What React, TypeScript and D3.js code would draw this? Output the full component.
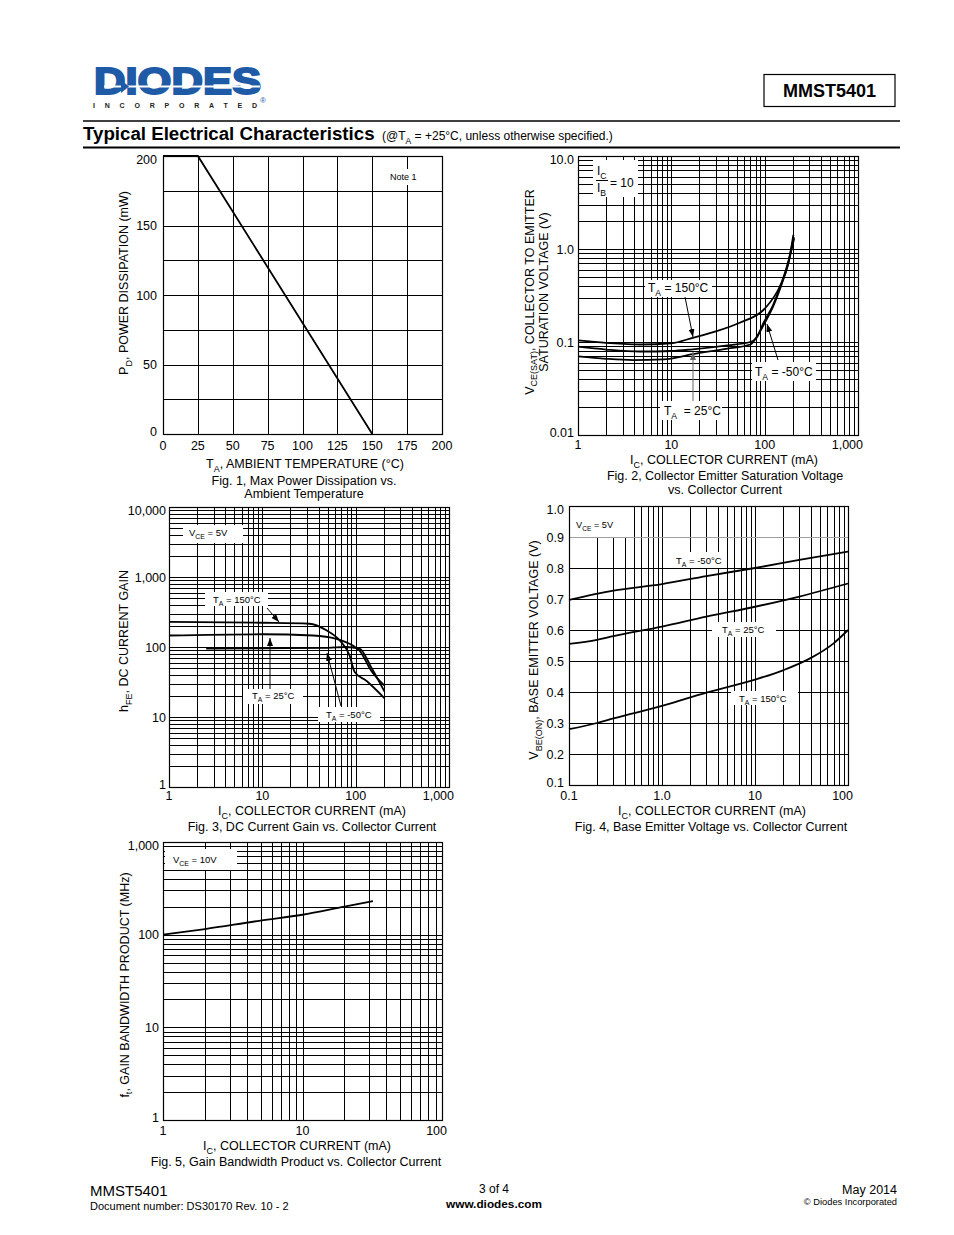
import React, { useEffect, useRef } from 'react';
import * as d3 from 'd3';

// Fig. 1 – max power dissipation vs. ambient temperature
const fig1Temp = [0, 25, 150];
const fig1Power = [200, 200, 0];
const fig1Grid = [0, 25, 50, 75, 100, 125, 150, 175, 200];
const fig1XLabels = ['0', '25', '50', '75', '100', '125', '150', '175', '200'];
const fig1YTicks = [0, 50, 100, 150, 200];

// Fig. 2 – VCE(SAT) vs. IC (IC/IB = 10)
const fig2Ic150 = [1, 2, 4.6, 10, 17, 30, 54, 100, 146, 180, 203];
const fig2V150 = [0.104, 0.098, 0.094, 0.097, 0.111, 0.13, 0.161, 0.228, 0.4, 0.71, 1.42];
const fig2Ic25 = [1, 2, 4.6, 10, 17, 40, 70, 82, 97, 123, 150, 180, 205];
const fig2V25 = [0.089, 0.083, 0.079, 0.08, 0.0835, 0.092, 0.1, 0.111, 0.16, 0.25, 0.42, 0.75, 1.35];
const fig2IcM50 = [1, 2, 3.9, 8.2, 17, 40, 70, 85, 100, 123, 150, 180, 207];
const fig2VM50 = [0.07, 0.066, 0.064, 0.065, 0.074, 0.085, 0.094, 0.12, 0.16, 0.24, 0.4, 0.72, 1.3];
const fig2XTicks = [1, 10, 100, 1000];
const fig2XLabels = ['1', '10', '100', '1,000'];
const fig2YTicks = [0.01, 0.1, 1, 10];
const fig2YLabels = ['0.01', '0.1', '1.0', '10.0'];

// Fig. 3 – hFE vs. IC (VCE = 5V)
const fig3Ic150 = [1, 10, 32, 48.6, 67.6, 86, 97.6, 130, 204];
const fig3H150 = [228, 222, 215, 173, 124, 76, 44, 33, 18.5];
const fig3Ic25 = [1, 10, 35, 62, 93, 110, 148, 204];
const fig3H25 = [146, 152, 146, 131, 105, 89, 45, 28];
const fig3IcM50 = [2.5, 10, 50, 79, 110, 148, 204];
const fig3HM50 = [95, 96, 97, 100, 95, 50, 23];
const fig3XTicks = [1, 10, 100, 1000];
const fig3XLabels = ['1', '10', '100', '1,000'];
const fig3YTicks = [1, 10, 100, 1000, 10000];
const fig3YLabels = ['1', '10', '100', '1,000', '10,000'];

// Fig. 4 – VBE(ON) vs. IC (VCE = 5V)
const fig4IcM50 = [0.1, 0.3, 1, 3, 10, 30, 100];
const fig4VM50 = [0.697, 0.727, 0.748, 0.774, 0.8, 0.826, 0.853];
const fig4Ic25 = [0.1, 0.2, 0.3, 1, 3, 10, 30, 100];
const fig4V25 = [0.555, 0.568, 0.58, 0.611, 0.643, 0.675, 0.708, 0.75];
const fig4Ic150 = [0.1, 0.2, 0.3, 1, 3, 10, 20, 40, 70, 100];
const fig4V150 = [0.28, 0.3, 0.315, 0.355, 0.398, 0.44, 0.47, 0.51, 0.557, 0.6];
const fig4XTicks = [0.1, 1, 10, 100];
const fig4XLabels = ['0.1', '1.0', '10', '100'];
const fig4YTicks = [0.1, 0.2, 0.3, 0.4, 0.5, 0.6, 0.7, 0.8, 0.9, 1.0];
const fig4YLabels = ['0.1', '0.2', '0.3', '0.4', '0.5', '0.6', '0.7', '0.8', '0.9', '1.0'];

// Fig. 5 – fT vs. IC (VCE = 10V)
const fig5Ic = [1, 2, 5, 10, 20, 32];
const fig5Ft = [100, 115, 142, 164, 201, 230];
const fig5XTicks = [1, 10, 100];
const fig5XLabels = ['1', '10', '100'];
const fig5YTicks = [1, 10, 100, 1000];
const fig5YLabels = ['1', '10', '100', '1,000'];

const FONT = "'Liberation Sans', Arial, Helvetica, sans-serif";
const BLUE = '#1e5aa6';

type Part = string | { sub: string };
type Sel = d3.Selection<any, unknown, null, undefined>;

const richText = (
  parent: Sel,
  x: number,
  y: number,
  parts: Part[],
  size: number,
  opts: { anchor?: string; rotate?: number; weight?: string; fill?: string } = {},
) => {
  const t = parent
    .append('text')
    .attr('font-family', FONT)
    .attr('font-size', size)
    .attr('font-weight', opts.weight || 'normal')
    .attr('fill', opts.fill || '#000')
    .attr('text-anchor', opts.anchor || 'start')
    .style('white-space', 'pre')
    .attr('transform', `translate(${x},${y})${opts.rotate ? ` rotate(${opts.rotate})` : ''}`);
  const shift = size * 0.3;
  let shifted = false;
  parts.forEach((p) => {
    if (typeof p === 'string') {
      const s = t.append('tspan').text(p);
      if (shifted) s.attr('dy', -shift);
      shifted = false;
    } else {
      t.append('tspan').attr('font-size', size * 0.72).attr('dy', shift).text(p.sub);
      shifted = true;
    }
  });
  return t;
};

const whiteBox = (g: Sel, x: number, y: number, w: number, h: number) =>
  g.append('rect').attr('x', x).attr('y', y).attr('width', w).attr('height', h).attr('fill', '#fff');

const arrow = (g: Sel, x1: number, y1: number, x2: number, y2: number, color = '#000') =>
  g
    .append('line')
    .attr('x1', x1)
    .attr('y1', y1)
    .attr('x2', x2)
    .attr('y2', y2)
    .attr('stroke', color)
    .attr('stroke-width', 1)
    .attr('marker-end', color === '#000' ? 'url(#arrowK)' : 'url(#arrowG)');

interface ChartOpts {
  xs: any;
  ys: any;
  xGrid: number[];
  yGrid: number[];
  greyY?: number[];
  boxes: [number, number, number, number][];
}

const drawGrid = (g: Sel, o: ChartOpts) => {
  const [x0, x1] = o.xs.range();
  const [yb, yt] = o.ys.range();
  g.append('g')
    .selectAll('line')
    .data(o.xGrid)
    .join('line')
    .attr('x1', (d) => Math.round(o.xs(d)) + 0.5)
    .attr('x2', (d) => Math.round(o.xs(d)) + 0.5)
    .attr('y1', yt)
    .attr('y2', yb)
    .attr('stroke', '#000')
    .attr('stroke-width', 1);
  g.append('g')
    .selectAll('line')
    .data(o.yGrid)
    .join('line')
    .attr('x1', x0)
    .attr('x2', x1)
    .attr('y1', (d) => Math.round(o.ys(d)) + 0.5)
    .attr('y2', (d) => Math.round(o.ys(d)) + 0.5)
    .attr('stroke', (d) => (o.greyY && o.greyY.includes(d) ? '#a0a0a0' : '#000'))
    .attr('stroke-width', 1);
  o.boxes.forEach(([x, y, w, h]) => whiteBox(g, x, y, w, h));
  g.append('rect')
    .attr('x', x0 + 0.5)
    .attr('y', yt + 0.5)
    .attr('width', x1 - x0)
    .attr('height', yb - yt)
    .attr('fill', 'none')
    .attr('stroke', '#000')
    .attr('stroke-width', 1.2);
};

const drawCurve = (g: Sel, xs: any, ys: any, xv: number[], yv: number[], curve: any = d3.curveMonotoneX) => {
  const pts: [number, number][] = xv.map((x, i) => [xs(x), ys(yv[i])]);
  g.append('path')
    .attr('d', d3.line().curve(curve)(pts))
    .attr('fill', 'none')
    .attr('stroke', '#000')
    .attr('stroke-width', 1.8);
};

const xTickLabels = (g: Sel, xs: any, y: number, vals: number[], labels: string[], lastEnd: boolean) => {
  vals.forEach((v, i) => {
    const last = lastEnd && i === vals.length - 1;
    g.append('text')
      .attr('x', xs(v) + (last ? 5 : 0))
      .attr('y', y)
      .attr('text-anchor', last ? 'end' : 'middle')
      .attr('font-family', FONT)
      .attr('font-size', 12.5)
      .text(labels[i]);
  });
};

const yTickLabels = (g: Sel, ys: any, x: number, vals: number[], labels: string[]) => {
  vals.forEach((v, i) => {
    const off = i === 0 ? -3 : i === vals.length - 1 ? 3 : 0;
    g.append('text')
      .attr('x', x)
      .attr('y', ys(v) + off)
      .attr('dy', '0.36em')
      .attr('text-anchor', 'end')
      .attr('font-family', FONT)
      .attr('font-size', 12.5)
      .text(labels[i]);
  });
};

const plainText = (g: Sel, x: number, y: number, s: string, size: number, anchor = 'middle', weight = 'normal') =>
  g
    .append('text')
    .attr('x', x)
    .attr('y', y)
    .attr('text-anchor', anchor)
    .attr('font-family', FONT)
    .attr('font-size', size)
    .attr('font-weight', weight)
    .text(s);

const drawHeader = (svg: Sel) => {
  const g = svg.append('g');
  // logo
  g.append('text')
    .attr('x', 94)
    .attr('y', 94)
    .attr('font-family', FONT)
    .attr('font-weight', 'bold')
    .attr('font-size', 37)
    .attr('textLength', 167)
    .attr('lengthAdjust', 'spacingAndGlyphs')
    .attr('fill', BLUE)
    .attr('stroke', BLUE)
    .attr('stroke-width', 2)
    .attr('stroke-linejoin', 'miter')
    .text('DIODES');
  g.append('rect').attr('x', 104).attr('y', 85.5).attr('width', 156).attr('height', 2).attr('fill', '#fff');
  g.append('path').attr('d', 'M121,80 L129,86.5 L121,93 Z').attr('fill', BLUE);
  g.append('text')
    .attr('x', 93)
    .attr('y', 108)
    .attr('font-family', FONT)
    .attr('font-weight', 'bold')
    .attr('font-size', 7)
    .attr('textLength', 164)
    .attr('lengthAdjust', 'spacing')
    .attr('fill', '#222')
    .text('INCORPORATED');
  g.append('text')
    .attr('x', 260)
    .attr('y', 103)
    .attr('font-family', FONT)
    .attr('font-size', 8)
    .attr('fill', BLUE)
    .text('®');

  g.append('rect').attr('x', 764).attr('y', 74.5).attr('width', 131).attr('height', 32).attr('fill', 'none').attr('stroke', '#000').attr('stroke-width', 1.2);
  plainText(g, 829.5, 97, 'MMST5401', 18, 'middle', 'bold');

  g.append('line').attr('x1', 83).attr('x2', 900).attr('y1', 121).attr('y2', 121).attr('stroke', '#000').attr('stroke-width', 1.3);
  g.append('line').attr('x1', 83).attr('x2', 900).attr('y1', 147.5).attr('y2', 147.5).attr('stroke', '#000').attr('stroke-width', 2.2);
  plainText(g, 83, 140, 'Typical Electrical Characteristics', 18.7, 'start', 'bold');
  richText(g, 382, 140, ['(@T', { sub: 'A' }, ' = +25°C, unless otherwise specified.)'], 12);

  // footer
  plainText(g, 90, 1196, 'MMST5401', 15, 'start');
  plainText(g, 90, 1210, 'Document number: DS30170 Rev. 10 - 2', 11, 'start');
  plainText(g, 494, 1193, '3 of 4', 12, 'middle');
  plainText(g, 494, 1208, 'www.diodes.com', 11.8, 'middle', 'bold');
  plainText(g, 897, 1194, 'May 2014', 12.5, 'end');
  plainText(g, 897, 1205, '© Diodes Incorporated', 9.3, 'end');
};

const drawFig1 = (svg: Sel) => {
  const g = svg.append('g');
  const xs = d3.scaleLinear().domain([0, 200]).range([163, 442]);
  const ys = d3.scaleLinear().domain([0, 200]).range([434, 156]);
  drawGrid(g, { xs, ys, xGrid: fig1Grid, yGrid: fig1Grid, boxes: [[387, 169, 38, 16]] });
  drawCurve(g, xs, ys, fig1Temp, fig1Power, d3.curveLinear);
  plainText(g, 390, 180, 'Note 1', 9, 'start');
  xTickLabels(g, xs, 450, fig1Grid, fig1XLabels, false);
  yTickLabels(g, ys, 157, fig1YTicks, fig1YTicks.map(String));
  richText(g, 305, 468, ['T', { sub: 'A' }, ', AMBIENT TEMPERATURE (°C)'], 12.5, { anchor: 'middle' });
  plainText(g, 304, 485, 'Fig. 1, Max Power Dissipation vs.', 12.5);
  plainText(g, 304, 498, 'Ambient Temperature', 12.5);
  richText(g, 128, 283, ['P', { sub: 'D' }, ', POWER DISSIPATION (mW)'], 12.5, { anchor: 'middle', rotate: -90 });
};

const drawFig2 = (svg: Sel) => {
  const g = svg.append('g');
  const xs = d3.scaleLog().domain([1, 1000]).range([578, 858]);
  const ys = d3.scaleLog().domain([0.01, 10]).range([435, 156]);
  drawGrid(g, {
    xs,
    ys,
    xGrid: xs.ticks(),
    yGrid: ys.ticks(),
    boxes: [
      [593, 160, 45, 37],
      [645, 280, 67, 17],
      [752, 362, 64, 19],
      [660, 401, 62, 19],
    ],
  });
  drawCurve(g, xs, ys, fig2Ic150, fig2V150);
  drawCurve(g, xs, ys, fig2Ic25, fig2V25);
  drawCurve(g, xs, ys, fig2IcM50, fig2VM50);
  // IC / IB = 10
  richText(g, 597, 175, ['I', { sub: 'C' }], 12);
  g.append('line').attr('x1', 596).attr('x2', 608).attr('y1', 180.5).attr('y2', 180.5).attr('stroke', '#000');
  richText(g, 597, 192, ['I', { sub: 'B' }], 12);
  plainText(g, 610, 187, '= 10', 12, 'start');
  richText(g, 648, 292, ['T', { sub: 'A' }, ' = 150°C'], 12);
  richText(g, 755, 376, ['T', { sub: 'A' }, ' = -50°C'], 12);
  richText(g, 664, 415, ['T', { sub: 'A' }, '  = 25°C'], 12);
  arrow(g, 685, 297, 693, 337);
  arrow(g, 693, 401, 693, 352, '#666');
  arrow(g, 778, 360, 767, 324);
  xTickLabels(g, xs, 449, fig2XTicks, fig2XLabels, true);
  yTickLabels(g, ys, 574, fig2YTicks, fig2YLabels);
  richText(g, 724, 464, ['I', { sub: 'C' }, ', COLLECTOR CURRENT (mA)'], 12.5, { anchor: 'middle' });
  plainText(g, 725, 480, 'Fig. 2, Collector Emitter Saturation Voltage', 12.5);
  plainText(g, 725, 494, 'vs. Collector Current', 12.5);
  richText(g, 533.5, 292, ['V', { sub: 'CE(SAT)' }, ', COLLECTOR TO EMITTER'], 12.5, { anchor: 'middle', rotate: -90 });
  richText(g, 548, 292, ['SATURATION VOLTAGE (V)'], 12.5, { anchor: 'middle', rotate: -90 });
};

const drawFig3 = (svg: Sel) => {
  const g = svg.append('g');
  const xs = d3.scaleLog().domain([1, 1000]).range([169, 449]);
  const ys = d3.scaleLog().domain([1, 10000]).range([787, 507]);
  drawGrid(g, {
    xs,
    ys,
    xGrid: xs.ticks(),
    yGrid: ys.ticks(),
    boxes: [
      [183, 525, 60, 18],
      [205, 592, 63, 14],
      [243, 689, 60, 15],
      [318, 707, 62, 15],
    ],
  });
  drawCurve(g, xs, ys, fig3Ic150, fig3H150);
  drawCurve(g, xs, ys, fig3Ic25, fig3H25);
  drawCurve(g, xs, ys, fig3IcM50, fig3HM50);
  richText(g, 189, 536, ['V', { sub: 'CE' }, ' = 5V'], 9.5);
  richText(g, 213, 603, ['T', { sub: 'A' }, ' = 150°C'], 9.5);
  richText(g, 252, 699, ['T', { sub: 'A' }, ' = 25°C'], 9.5);
  richText(g, 326, 718, ['T', { sub: 'A' }, ' = -50°C'], 9.5);
  arrow(g, 267, 608, 279, 622);
  arrow(g, 270, 689, 270, 638);
  arrow(g, 341, 706, 327, 653);
  xTickLabels(g, xs, 800, fig3XTicks, fig3XLabels, true);
  yTickLabels(g, ys, 166, fig3YTicks, fig3YLabels);
  richText(g, 312, 815, ['I', { sub: 'C' }, ', COLLECTOR CURRENT (mA)'], 12.5, { anchor: 'middle' });
  plainText(g, 312, 831, 'Fig. 3, DC Current Gain vs. Collector Current', 12.5);
  richText(g, 128, 641, ['h', { sub: 'FE' }, ', DC CURRENT GAIN'], 12.5, { anchor: 'middle', rotate: -90 });
};

const drawFig4 = (svg: Sel) => {
  const g = svg.append('g');
  const xs = d3.scaleLog().domain([0.1, 100]).range([569, 848]);
  const ys = d3.scaleLinear().domain([0.1, 1.0]).range([785, 506]);
  drawGrid(g, {
    xs,
    ys,
    xGrid: xs.ticks(),
    yGrid: fig4YTicks,
    greyY: [0.9],
    boxes: [
      [570, 507, 62, 30],
      [667, 552, 57, 16],
      [712, 622, 64, 15],
      [731, 691, 67, 14],
    ],
  });
  drawCurve(g, xs, ys, fig4IcM50, fig4VM50);
  drawCurve(g, xs, ys, fig4Ic25, fig4V25);
  drawCurve(g, xs, ys, fig4Ic150, fig4V150);
  richText(g, 576, 528, ['V', { sub: 'CE' }, ' = 5V'], 9.2);
  richText(g, 676, 564, ['T', { sub: 'A' }, ' = -50°C'], 9.5);
  richText(g, 722, 633, ['T', { sub: 'A' }, ' = 25°C'], 9.5);
  richText(g, 739, 702, ['T', { sub: 'A' }, ' = 150°C'], 9.5);
  xTickLabels(g, xs, 800, fig4XTicks, fig4XLabels, true);
  yTickLabels(g, ys, 564, fig4YTicks, fig4YLabels);
  richText(g, 712, 815, ['I', { sub: 'C' }, ', COLLECTOR CURRENT (mA)'], 12.5, { anchor: 'middle' });
  plainText(g, 711, 831, 'Fig. 4, Base Emitter Voltage vs. Collector Current', 12.5);
  richText(g, 538, 650, ['V', { sub: 'BE(ON)' }, ', BASE EMITTER VOLTAGE (V)'], 12.5, { anchor: 'middle', rotate: -90 });
};

const drawFig5 = (svg: Sel) => {
  const g = svg.append('g');
  const xs = d3.scaleLog().domain([1, 100]).range([163, 442]);
  const ys = d3.scaleLog().domain([1, 1000]).range([1120, 842]);
  drawGrid(g, {
    xs,
    ys,
    xGrid: xs.ticks(),
    yGrid: ys.ticks(),
    boxes: [[165, 849, 72, 21]],
  });
  drawCurve(g, xs, ys, fig5Ic, fig5Ft);
  richText(g, 173, 863, ['V', { sub: 'CE' }, ' = 10V'], 9.5);
  xTickLabels(g, xs, 1135, fig5XTicks, fig5XLabels, true);
  yTickLabels(g, ys, 159, fig5YTicks, fig5YLabels);
  richText(g, 297, 1150, ['I', { sub: 'C' }, ', COLLECTOR CURRENT (mA)'], 12.5, { anchor: 'middle' });
  plainText(g, 296, 1166, 'Fig. 5, Gain Bandwidth Product vs. Collector Current', 12.5);
  richText(g, 128.5, 985, ['f', { sub: 't' }, ', GAIN BANDWIDTH PRODUCT (MHz)'], 12.5, { anchor: 'middle', rotate: -90 });
};

const App = () => {
  const ref = useRef<SVGSVGElement>(null);

  useEffect(() => {
    const svg = d3.select(ref.current);
    svg.selectAll('*').remove();
    const defs = svg.append('defs');
    [
      ['arrowK', '#000'],
      ['arrowG', '#666'],
    ].forEach(([id, c]) => {
      defs
        .append('marker')
        .attr('id', id)
        .attr('viewBox', '0 0 8 6')
        .attr('refX', 8)
        .attr('refY', 3)
        .attr('markerWidth', 8)
        .attr('markerHeight', 6)
        .attr('markerUnits', 'userSpaceOnUse')
        .attr('orient', 'auto')
        .append('path')
        .attr('d', 'M0,0 L8,3 L0,6 Z')
        .attr('fill', c);
    });
    drawHeader(svg);
    drawFig1(svg);
    drawFig2(svg);
    drawFig3(svg);
    drawFig4(svg);
    drawFig5(svg);
  }, []);

  return (
    <svg
      ref={ref}
      width={954}
      height={1235}
      style={{ position: 'absolute', left: 0, top: 0, background: '#fff' }}
    />
  );
};

export default App;
